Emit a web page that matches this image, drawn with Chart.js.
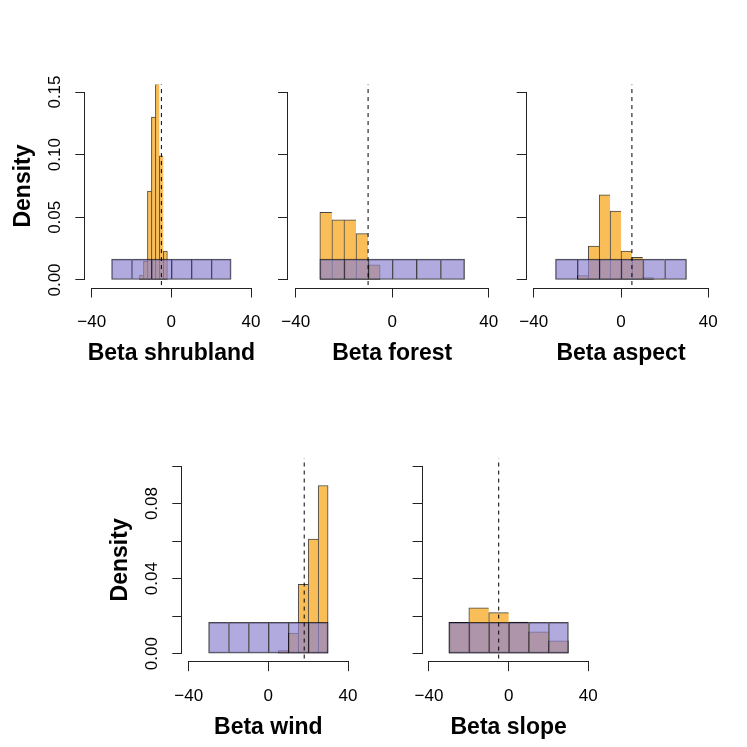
<!DOCTYPE html>
<html>
<head>
<meta charset="utf-8">
<script src="https://cdn.jsdelivr.net/npm/chart.js@4.4.1/dist/chart.umd.min.js"></script>
<style>
  html, body { margin: 0; padding: 0; background: #fff; }
  #wrap { position: relative; width: 747px; height: 747px; }
  #wrap canvas { position: absolute; left: 0; top: 0; }
</style>
</head>
<body>
<div id="wrap">
  <canvas id="shrubland" width="747" height="747"></canvas>
  <canvas id="forest" width="747" height="747"></canvas>
  <canvas id="aspect" width="747" height="747"></canvas>
  <canvas id="wind" width="747" height="747"></canvas>
  <canvas id="slope" width="747" height="747"></canvas>
</div>
<script>
// prior: the same flat histogram in every panel
var priorBreaks = [-30, -20, -10, 0, 10, 20, 30];
var priorDensity = [0.0167, 0.0167, 0.0167, 0.0167, 0.0167, 0.0167];

// posterior histograms (bin edges + densities) and true values
var shrublandBreaks = [-16, -14, -12, -10, -8, -6, -4, -2];
var shrublandDensity = [0.004, 0.015, 0.071, 0.130, 0.157, 0.099, 0.023];
var shrublandTrue = -5;

var forestBreaks = [-30, -25, -20, -15, -10, -5];
var forestDensity = [0.054, 0.048, 0.048, 0.037, 0.012];
var forestTrue = -10;

var aspectBreaks = [-20, -15, -10, -5, 0, 5, 10, 15, 20];
var aspectDensity = [0.0035, 0.027, 0.068, 0.055, 0.023, 0.018, 0.002, 0.0004];
var aspectTrue = 5;

var windBreaks = [5, 10, 15, 20, 25, 30];
var windDensity = [0.0016, 0.011, 0.037, 0.061, 0.0896];
var windTrue = 18;

var slopeBreaks = [-30, -20, -10, 0, 10, 20, 30];
var slopeDensity = [0.0167, 0.0244, 0.0219, 0.0169, 0.0117, 0.0069];
var slopeTrue = -5;

// axes
var xTicks = [-40, 0, 40];
var yTicksTop = [0, 0.05, 0.10, 0.15];
var yLabelsTop = ['0.00', '0.05', '0.10', '0.15'];
var yTicksBottom = [0, 0.02, 0.04, 0.06, 0.08, 0.10];
var yLabelsBottom = ['0.00', '', '0.04', '', '0.08', ''];

var orange = '#F9BE58';
var lavender = 'rgba(139,130,208,0.68)';
var edge = 'rgba(0,0,0,0.72)';
var axisColor = '#222';

Chart.defaults.font.family = '"Liberation Sans", Arial, sans-serif';
Chart.defaults.color = '#000';

function toBars(breaks, dens) {
  return dens.map(function (d, i) {
    return { x: (breaks[i] + breaks[i + 1]) / 2, y: d };
  });
}

// single shared edge between neighbouring bins, like R's rect()
function binBorder(c) {
  var last = c.dataset.data.length - 1;
  return { left: 1, top: 1, bottom: 1, right: c.dataIndex === last ? 1 : 0 };
}

// R style axis lines (first to last tick) + rotated y labels
var rAxes = {
  id: 'rAxes',
  afterDraw: function (chart, args, opts) {
    var ctx = chart.ctx, xs = chart.scales.x, ys = chart.scales.y;
    var yv = opts.yTicks;
    ctx.save();
    ctx.strokeStyle = axisColor;
    ctx.lineWidth = 1;
    ctx.beginPath();
    var by = Math.round(xs.top) + 0.5;
    ctx.moveTo(xs.getPixelForValue(xTicks[0]), by);
    ctx.lineTo(xs.getPixelForValue(xTicks[xTicks.length - 1]), by);
    var bx = Math.round(ys.right) - 0.5;
    ctx.moveTo(bx, ys.getPixelForValue(yv[0]));
    ctx.lineTo(bx, ys.getPixelForValue(yv[yv.length - 1]));
    ctx.stroke();

    if (opts.yLabels) {
      ctx.fillStyle = '#000';
      ctx.font = '17px "Liberation Sans", Arial, sans-serif';
      ctx.textAlign = 'center';
      ctx.textBaseline = 'alphabetic';
      opts.yLabels.forEach(function (lab, i) {
        if (!lab) return;
        ctx.save();
        ctx.translate(ys.right - 25, ys.getPixelForValue(yv[i]));
        ctx.rotate(-Math.PI / 2);
        ctx.fillText(lab, 0, 0);
        ctx.restore();
      });
    }
    ctx.restore();
  }
};

function panel(id, p) {
  var W = 747, yBox = 80, xBox = 80;
  var xmin = -43.2, xmax = 43.2;
  return new Chart(document.getElementById(id), {
    type: 'bar',
    data: {
      datasets: [{
        type: 'line',
        data: [{ x: p.trueVal, y: -1 }, { x: p.trueVal, y: 1 }],
        borderColor: '#000',
        borderWidth: 1,
        borderDash: [4, 4],
        pointRadius: 0,
        xAxisID: 'x',
        order: 0
      }, {
        data: toBars(priorBreaks, priorDensity),
        xAxisID: 'x2',
        backgroundColor: lavender,
        borderColor: edge,
        borderWidth: binBorder,
        clip: 0,
        order: 1
      }, {
        data: toBars(p.breaks, p.density),
        xAxisID: 'x',
        backgroundColor: orange,
        borderColor: edge,
        borderWidth: binBorder,
        clip: 0,
        order: 2
      }]
    },
    options: {
      animation: false,
      responsive: false,
      devicePixelRatio: 1,
      layout: {
        padding: { left: p.area.l - yBox, right: W - p.area.r, top: p.area.t, bottom: W - p.area.b - xBox }
      },
      datasets: {
        bar: { barPercentage: 1, categoryPercentage: 1, borderSkipped: false, grouped: false }
      },
      plugins: {
        legend: { display: false },
        tooltip: { enabled: false },
        rAxes: { yTicks: p.yTicks, yLabels: p.yLabels }
      },
      scales: {
        x: {
          type: 'linear',
          min: xmin, max: xmax,
          offset: false,
          afterBuildTicks: function (s) { s.ticks = xTicks.map(function (v) { return { value: v }; }); },
          afterFit: function (s) { s.height = xBox; },
          grid: { display: true, offset: false, drawOnChartArea: false, drawTicks: true, tickLength: 10, color: axisColor, lineWidth: 1 },
          border: { display: false },
          ticks: {
            padding: 15,
            autoSkip: false,
            maxRotation: 0,
            font: { size: 17 },
            color: '#000',
            callback: function (v) { return v < 0 ? '\u2212' + Math.abs(v) : String(v); }
          },
          title: {
            display: true,
            text: p.xlab,
            font: { size: 23, weight: 'bold' },
            color: '#000',
            padding: { top: 0, bottom: 0 }
          }
        },
        x2: {
          type: 'linear',
          display: false,
          min: xmin, max: xmax,
          offset: false,
          afterBuildTicks: function (s) { s.ticks = priorBreaks.map(function (v) { return { value: v }; }); }
        },
        y: {
          type: 'linear',
          min: p.yRange[0], max: p.yRange[1],
          afterBuildTicks: function (s) { s.ticks = p.yTicks.map(function (v) { return { value: v }; }); },
          afterFit: function (s) { s.width = yBox; },
          grid: { display: true, drawOnChartArea: false, drawTicks: true, tickLength: 10, color: axisColor, lineWidth: 1 },
          border: { display: false },
          ticks: { display: false },
          title: {
            display: !!p.ylab,
            text: 'Density',
            font: { size: 23, weight: 'bold' },
            color: '#000',
            padding: { top: 5, bottom: 0 }
          }
        }
      }
    },
    plugins: [rAxes]
  });
}

var topRange = [-0.006, 0.156];
var bottomRange = [-0.004, 0.104];

panel('shrubland', {
  xlab: 'Beta shrubland', breaks: shrublandBreaks, density: shrublandDensity, trueVal: shrublandTrue,
  yTicks: yTicksTop, yLabels: yLabelsTop, yRange: topRange, ylab: true,
  area: { l: 85.3, r: 257.4, t: 84.5, b: 287.5 }
});
panel('forest', {
  xlab: 'Beta forest', breaks: forestBreaks, density: forestDensity, trueVal: forestTrue,
  yTicks: yTicksTop, yLabels: null, yRange: topRange, ylab: false,
  area: { l: 288.0, r: 496.4, t: 84.5, b: 287.5 }
});
panel('aspect', {
  xlab: 'Beta aspect', breaks: aspectBreaks, density: aspectDensity, trueVal: aspectTrue,
  yTicks: yTicksTop, yLabels: null, yRange: topRange, ylab: false,
  area: { l: 526.7, r: 715.3, t: 84.5, b: 287.5 }
});
panel('wind', {
  xlab: 'Beta wind', breaks: windBreaks, density: windDensity, trueVal: windTrue,
  yTicks: yTicksBottom, yLabels: yLabelsBottom, yRange: bottomRange, ylab: true,
  area: { l: 182.3, r: 354.4, t: 458.5, b: 661.2 }
});
panel('slope', {
  xlab: 'Beta slope', breaks: slopeBreaks, density: slopeDensity, trueVal: slopeTrue,
  yTicks: yTicksBottom, yLabels: null, yRange: bottomRange, ylab: false,
  area: { l: 422.6, r: 594.7, t: 458.5, b: 661.2 }
});
</script>
</body>
</html>
